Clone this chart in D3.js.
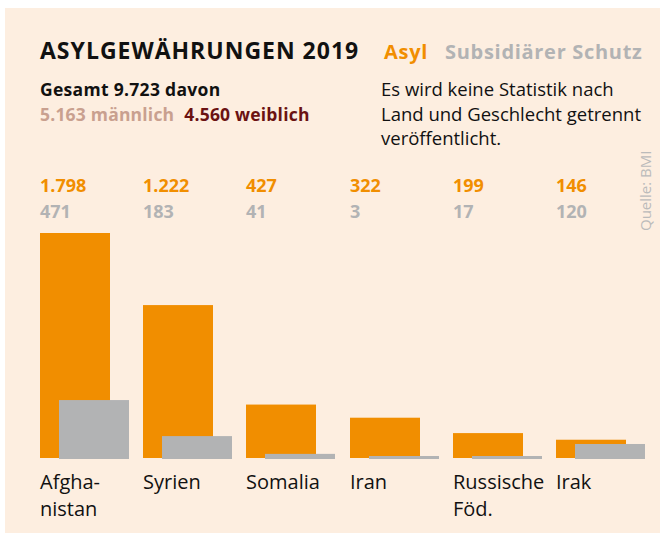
<!DOCTYPE html>
<html>
<head>
<meta charset="utf-8">
<script src="https://cdn.jsdelivr.net/npm/d3@7"></script>
<style>
  body { margin: 0; background: #fff; }
  svg { display: block; font-family: "Open Sans", sans-serif; }
</style>
</head>
<body>
<div id="chart"></div>
<script>
var width = 660,
    height = 533;

// Daten (BMI, Asylgewährungen 2019)
var countries = ["Afghanistan", "Syrien", "Somalia", "Iran", "Russische Föd.", "Irak"];
var labelLines = [["Afgha-", "nistan"], ["Syrien"], ["Somalia"], ["Iran"], ["Russische", "Föd."], ["Irak"]];
var asyl = [1798, 1222, 427, 322, 199, 146];
var subsidiaer = [471, 183, 41, 3, 17, 120];

var orange = "#f18e00",
    grey = "#b2b3b4",
    bg = "#fdeee0";

var fmt = d3.formatLocale({decimal: ",", thousands: ".", grouping: [3], currency: ["", "€"]}).format(",d");

var svg = d3.select("#chart")
    .append("svg")
    .attr("width", width)
    .attr("height", height);

svg.append("rect")
    .attr("x", 5).attr("y", 8)
    .attr("width", width - 5).attr("height", height - 8)
    .attr("fill", bg);

// Kopf
svg.append("text")
    .attr("x", 40).attr("y", 59)
    .attr("font-size", 23).attr("font-weight", 700)
    .attr("letter-spacing", 1)
    .attr("fill", "#111")
    .text("ASYLGEWÄHRUNGEN 2019");

var legend = svg.append("text")
    .attr("x", 384).attr("y", 59)
    .attr("font-size", 20).attr("font-weight", 700)
    .attr("letter-spacing", 0.7);
legend.append("tspan").attr("fill", orange).text("Asyl");
legend.append("tspan").attr("fill", grey).attr("dx", 17).text("Subsidiärer Schutz");

svg.append("text")
    .attr("x", 40).attr("y", 96)
    .attr("font-size", 17.5).attr("font-weight", 700)
    .attr("letter-spacing", 0.3)
    .attr("fill", "#111")
    .text("Gesamt 9.723 davon");

var gender = svg.append("text")
    .attr("x", 40).attr("y", 121)
    .attr("font-size", 17.5).attr("font-weight", 700)
    .attr("letter-spacing", 0.2);
gender.append("tspan").attr("fill", "#c9a08f").text("5.163 männlich");
gender.append("tspan").attr("fill", "#6b1212").attr("dx", 10).text("4.560 weiblich");

var note = ["Es wird keine Statistik nach", "Land und Geschlecht getrennt", "veröffentlicht."];
svg.append("g").selectAll("text")
    .data(note)
    .enter().append("text")
    .attr("x", 381)
    .attr("y", function (d, i) { return 96 + i * 24.5; })
    .attr("font-size", 18.5)
    .attr("fill", "#111")
    .text(function (d) { return d; });

svg.append("text")
    .attr("transform", "translate(651,231) rotate(-90)")
    .attr("font-size", 15)
    .attr("fill", "#bbbbbb")
    .text("Quelle: BMI");

// Skalen
var x = d3.scaleBand()
    .domain(countries)
    .range([40, 659]);

var barW = 70,
    shift = 19,
    base = 458;

var y = d3.scaleLinear()
    .domain([0, d3.max(asyl)])
    .range([base, 233]);

var g = svg.append("g");

var col = g.selectAll("g.country")
    .data(countries)
    .enter().append("g")
    .attr("class", "country")
    .attr("transform", function (d) { return "translate(" + Math.round(x(d)) + ",0)"; });

col.append("rect")
    .attr("x", 0)
    .attr("width", barW)
    .attr("y", function (d, i) { return y(asyl[i]); })
    .attr("height", function (d, i) { return base - y(asyl[i]); })
    .attr("fill", orange);

col.append("rect")
    .attr("x", shift)
    .attr("width", barW)
    .attr("y", function (d, i) { return Math.min(y(subsidiaer[i]), base - 3) + 1; })
    .attr("height", function (d, i) { return Math.max(base - y(subsidiaer[i]), 3); })
    .attr("fill", grey);

col.append("text")
    .attr("y", 192)
    .attr("font-size", 18).attr("font-weight", 700)
    .attr("fill", orange)
    .text(function (d, i) { return fmt(asyl[i]); });

col.append("text")
    .attr("y", 218)
    .attr("font-size", 18).attr("font-weight", 700)
    .attr("fill", grey)
    .text(function (d, i) { return fmt(subsidiaer[i]); });

col.append("text")
    .attr("font-size", 20)
    .attr("fill", "#111")
    .selectAll("tspan")
    .data(function (d, i) { return labelLines[i]; })
    .enter().append("tspan")
    .attr("x", 0)
    .attr("y", function (d, j) { return 489 + j * 27; })
    .text(function (d) { return d; });
</script>
</body>
</html>
